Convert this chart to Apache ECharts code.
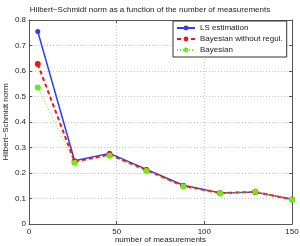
<!DOCTYPE html>
<html><head><meta charset="utf-8">
<script src="https://cdn.jsdelivr.net/npm/echarts@6/dist/echarts.min.js"></script>
<style>html,body{margin:0;padding:0;background:#fff}#c{width:300px;height:246px}</style>
</head><body><div id="c"></div>
<script>
const measurements = [5, 26, 46, 67, 88, 109, 129, 150];
const lsEstimation = [0.755, 0.248, 0.277, 0.214, 0.152, 0.122, 0.125, 0.097];
const bayesNoReg = [0.627, 0.244, 0.272, 0.211, 0.149, 0.121, 0.126, 0.096];
const bayesian = [0.535, 0.240, 0.268, 0.208, 0.147, 0.120, 0.127, 0.095];
const xTicks = [0, 50, 100, 150];
const yTicks = [0, 0.1, 0.2, 0.3, 0.4, 0.5, 0.6, 0.7, 0.8];
const seriesNames = ['LS estimation', 'Bayesian without regul.', 'Bayesian'];

const font = 'Liberation Sans, Arial, sans-serif';
const pair = (xs, ys) => xs.map((x, i) => [x, ys[i]]);
const chart = echarts.init(document.getElementById('c'), null, {renderer: 'canvas'});
const axisCommon = {
  axisLine: {show: true, onZero: false, lineStyle: {color: '#555', width: 1}},
  axisTick: {show: true, inside: true, length: 3, lineStyle: {color: '#555'}},
};
chart.setOption({
  animation: false,
  title: {
    text: 'Hilbert\u2212Schmidt norm as a function of the number of measurements',
    left: 'center', top: 1,
    textStyle: {fontFamily: font, fontSize: 8, fontWeight: 'normal', color: '#222'}
  },
  grid: {left: 29, right: 8, top: 20, bottom: 22, show: false, containLabel: false, outerBoundsMode: 'none'},
  legend: {
    data: seriesNames,
    orient: 'vertical', left: 173, top: 21,
    itemWidth: 18, itemHeight: 6, itemGap: 3,
    padding: [3, 4, 3, 3],
    backgroundColor: '#fff', borderColor: '#333', borderWidth: 1,
    textStyle: {fontFamily: font, fontSize: 8, color: '#222', padding: [0, 0, 0, 0]}
  },
  xAxis: [{
    type: 'value', min: 0, max: 150, interval: 50,
    ...axisCommon,
    splitLine: {show: true, lineStyle: {color: '#c4c4c4', type: [1, 2], width: 1}},
    axisLabel: {fontFamily: font, fontSize: 8, color: '#222', margin: 4,
      formatter: v => xTicks.includes(v) ? String(v) : ''},
    name: 'number of measurements', nameLocation: 'middle', nameGap: 12, nameMoveOverlap: false,
    nameTextStyle: {fontFamily: font, fontSize: 8, color: '#222'}
  }, {
    type: 'value', min: 0, max: 150, interval: 50, position: 'top',
    ...axisCommon, axisLabel: {show: false}, splitLine: {show: false}
  }],
  yAxis: [{
    type: 'value', min: 0, max: 0.8, interval: 0.1,
    ...axisCommon,
    splitLine: {show: true, lineStyle: {color: '#c4c4c4', type: [1, 2], width: 1}},
    axisLabel: {fontFamily: font, fontSize: 8, color: '#222', margin: 3,
      formatter: v => { const r = Math.round(v * 10) / 10; return yTicks.includes(r) ? String(r) : ''; }},
    name: 'Hilbert\u2212Schmidt norm', nameLocation: 'middle', nameGap: 19, nameMoveOverlap: false,
    nameTextStyle: {fontFamily: font, fontSize: 8, color: '#222'}
  }, {
    type: 'value', min: 0, max: 0.8, interval: 0.1, position: 'right',
    ...axisCommon, axisLabel: {show: false}, splitLine: {show: false}
  }],
  series: [
    {name: seriesNames[0], type: 'line', data: pair(measurements, lsEstimation),
     symbol: 'circle', symbolSize: 5, color: '#2b3cff',
     lineStyle: {width: 1.5, type: 'solid'}, z: 3},
    {name: seriesNames[1], type: 'line', data: pair(measurements, bayesNoReg),
     symbol: 'circle', symbolSize: 6, color: '#ff1010',
     lineStyle: {width: 2, type: [4, 3]}, z: 4},
    {name: seriesNames[2], type: 'line', data: pair(measurements, bayesian),
     symbol: 'circle', symbolSize: 6, color: '#66ee11',
     lineStyle: {width: 1, type: [1, 2]}, z: 5}
  ]
});
</script></body></html>
